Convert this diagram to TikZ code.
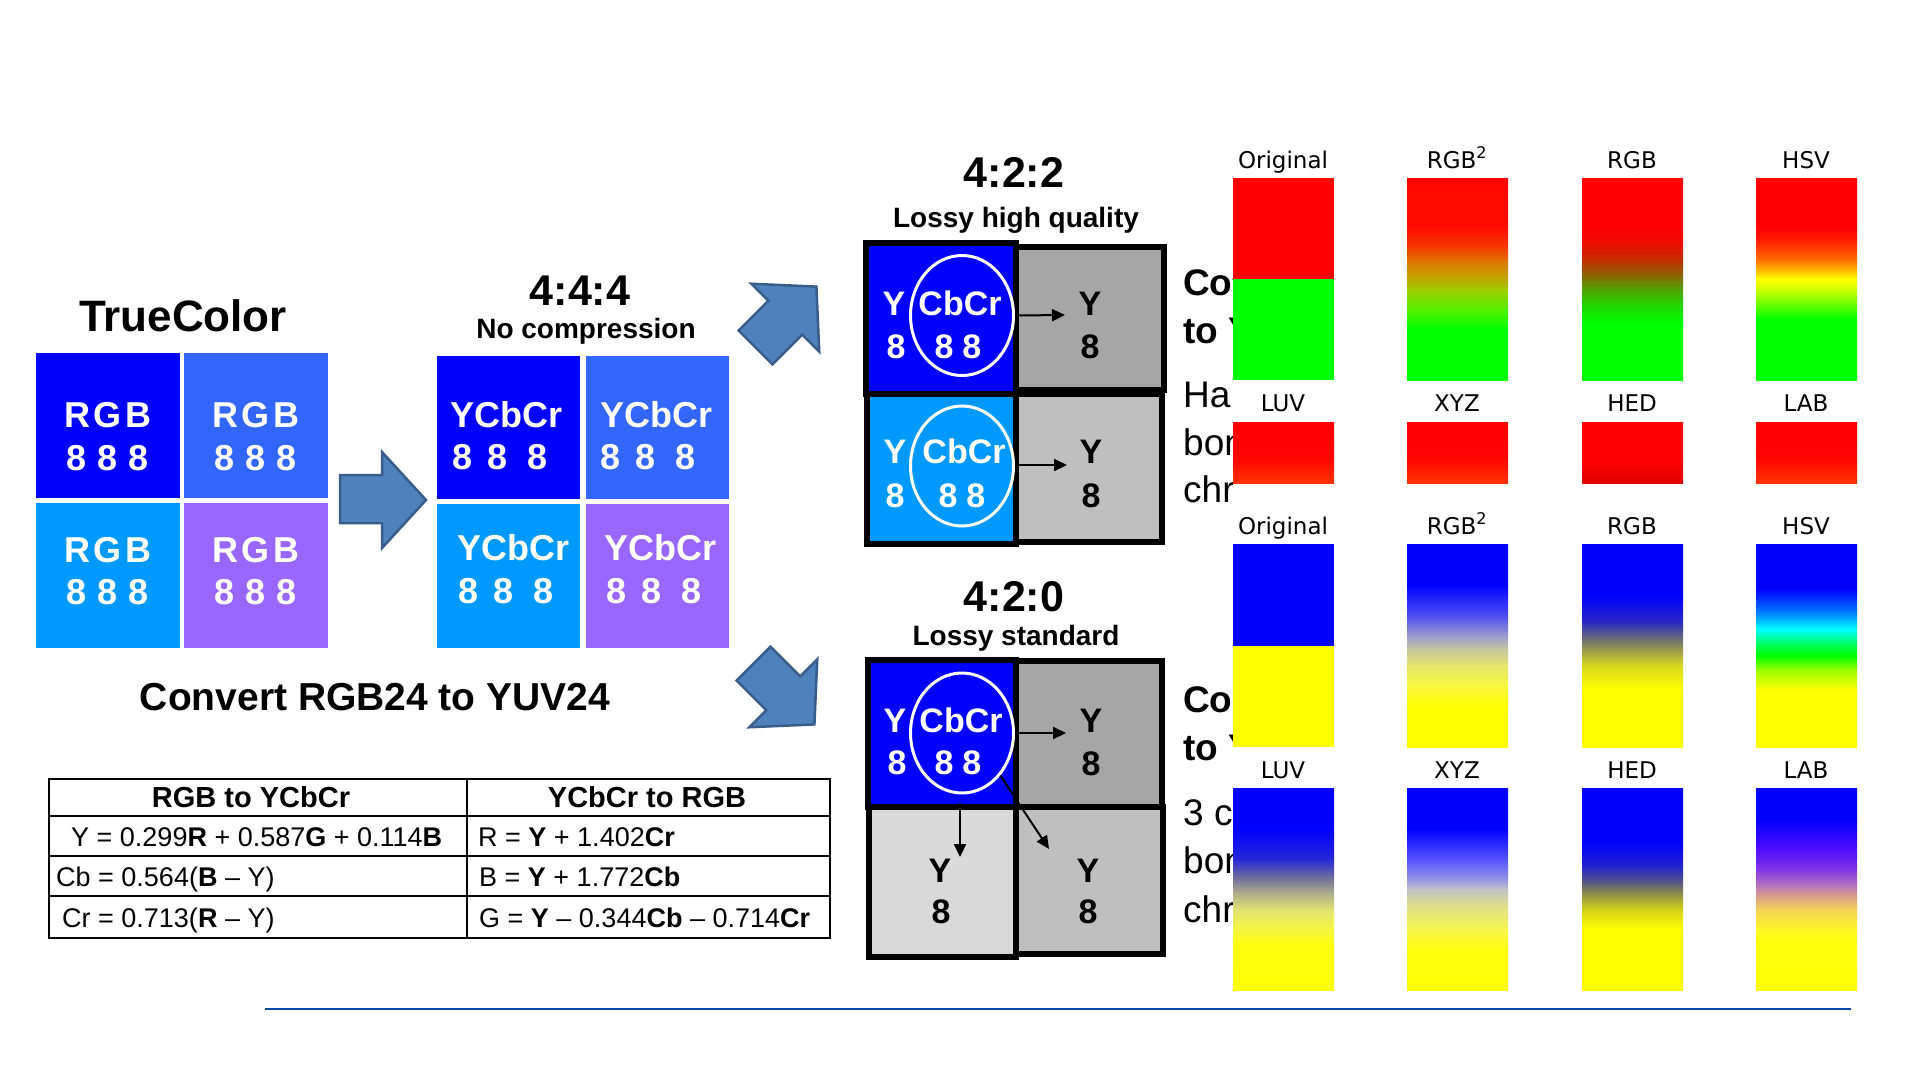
\documentclass[tikz,border=0pt]{standalone}
\usepackage{fontspec}
\setmainfont{Liberation Sans}
\newfontfamily\dvs{DejaVu Sans}
\usetikzlibrary{shapes.geometric,arrows.meta}
\newcommand\pxsize[1]{\fontsize{#1}{#1}\selectfont}
\definecolor{cA}{HTML}{0000FF}
\definecolor{cB}{HTML}{3366FF}
\definecolor{cC}{HTML}{0099FF}
\definecolor{cD}{HTML}{9966FF}
\definecolor{arrfill}{HTML}{4F81BD}
\definecolor{arredge}{HTML}{385D8A}
\definecolor{gA}{HTML}{A6A6A6}
\definecolor{gB}{HTML}{BFBFBF}
\definecolor{gC}{HTML}{D9D9D9}
\definecolor{rulecol}{HTML}{0047AB}
\definecolor{pureR}{RGB}{255,0,0}
\definecolor{pureG}{RGB}{0,255,0}
\definecolor{pureB}{RGB}{0,0,255}
\definecolor{pureY}{RGB}{255,255,0}
% red-green shadings (bottom = 0bp, path spans 25bp..75bp)
\pgfdeclareverticalshading{rgsq}{100bp}{rgb(0bp)=(0,1,0); rgb(37.5bp)=(0,1,0); rgb(42bp)=(0.3,0.95,0); rgb(47bp)=(0.6,0.82,0); rgb(50bp)=(0.75,0.66,0); rgb(54bp)=(0.86,0.48,0); rgb(58bp)=(0.96,0.22,0); rgb(63bp)=(1,0.04,0); rgb(100bp)=(1,0,0)}
\pgfdeclareverticalshading{rglin}{100bp}{rgb(0bp)=(0,1,0); rgb(39bp)=(0,1,0); rgb(44bp)=(0.15,0.82,0); rgb(48bp)=(0.35,0.6,0); rgb(51bp)=(0.55,0.38,0); rgb(55bp)=(0.78,0.17,0); rgb(59bp)=(0.93,0.05,0); rgb(63bp)=(1,0,0); rgb(100bp)=(1,0,0)}
\pgfdeclareverticalshading{rghsv}{100bp}{rgb(0bp)=(0,1,0); rgb(40bp)=(0,1,0); rgb(45bp)=(0.55,1,0); rgb(48.5bp)=(0.9,1,0); rgb(50bp)=(1,1,0); rgb(52bp)=(1,0.75,0); rgb(55bp)=(1,0.4,0); rgb(60bp)=(1,0.1,0); rgb(63bp)=(1,0,0); rgb(100bp)=(1,0,0)}
\pgfdeclareverticalshading{redtop}{100bp}{rgb(0bp)=(1,0.2,0); rgb(25bp)=(1,0.2,0); rgb(45bp)=(1,0.02,0); rgb(75bp)=(1,0,0); rgb(100bp)=(1,0,0)}
\pgfdeclareverticalshading{redhed}{100bp}{rgb(0bp)=(0.86,0,0); rgb(25bp)=(0.88,0,0); rgb(45bp)=(1,0,0); rgb(100bp)=(1,0,0)}
% blue-yellow shadings
\pgfdeclareverticalshading{bysq}{100bp}{rgb(0bp)=(1,1,0); rgb(35bp)=(1,1,0); rgb(40bp)=(0.97,0.97,0.25); rgb(45bp)=(0.9,0.9,0.42); rgb(49bp)=(0.78,0.78,0.62); rgb(52.5bp)=(0.6,0.6,0.82); rgb(57.5bp)=(0.3,0.3,0.95); rgb(65bp)=(0,0,1); rgb(100bp)=(0,0,1)}
\pgfdeclareverticalshading{bylin}{100bp}{rgb(0bp)=(1,1,0); rgb(39bp)=(1,1,0); rgb(45bp)=(0.85,0.85,0.12); rgb(49bp)=(0.6,0.6,0.3); rgb(52bp)=(0.4,0.4,0.48); rgb(56bp)=(0.15,0.15,0.78); rgb(62.5bp)=(0,0,1); rgb(100bp)=(0,0,1)}
\pgfdeclareverticalshading{byhsv}{100bp}{rgb(0bp)=(1,1,0); rgb(39bp)=(1,1,0); rgb(44bp)=(0.6,1,0); rgb(47.5bp)=(0,1,0); rgb(50bp)=(0,1,0.3); rgb(54bp)=(0,1,1); rgb(58.5bp)=(0,0.45,1); rgb(64bp)=(0,0,1); rgb(100bp)=(0,0,1)}
\pgfdeclareverticalshading{byluv}{100bp}{rgb(0bp)=(1,1,0); rgb(36bp)=(1,1,0.05); rgb(41bp)=(0.95,0.95,0.3); rgb(45bp)=(0.88,0.88,0.45); rgb(49bp)=(0.68,0.68,0.55); rgb(52.5bp)=(0.45,0.45,0.6); rgb(57.5bp)=(0.15,0.15,0.85); rgb(65bp)=(0,0,1); rgb(100bp)=(0,0,1)}
\pgfdeclareverticalshading{byxyz}{100bp}{rgb(0bp)=(1,1,0); rgb(35bp)=(1,1,0.05); rgb(41bp)=(0.95,0.95,0.35); rgb(46bp)=(0.87,0.87,0.55); rgb(50bp)=(0.75,0.75,0.78); rgb(53bp)=(0.55,0.55,0.92); rgb(58bp)=(0.3,0.3,1); rgb(65bp)=(0,0,1); rgb(100bp)=(0,0,1)}
\pgfdeclareverticalshading{byhed}{100bp}{rgb(0bp)=(1,1,0); rgb(40bp)=(1,1,0); rgb(45bp)=(0.82,0.82,0.1); rgb(49bp)=(0.55,0.55,0.3); rgb(52bp)=(0.32,0.32,0.55); rgb(56bp)=(0.12,0.12,0.82); rgb(62bp)=(0,0,1); rgb(100bp)=(0,0,1)}
\pgfdeclareverticalshading{bylab}{100bp}{rgb(0bp)=(1,1,0); rgb(37bp)=(1,1,0.05); rgb(40bp)=(1,0.97,0.15); rgb(45bp)=(0.95,0.82,0.35); rgb(48.5bp)=(0.85,0.6,0.55); rgb(51.5bp)=(0.68,0.42,0.78); rgb(55bp)=(0.5,0.2,0.9); rgb(60bp)=(0.3,0.05,1); rgb(67.5bp)=(0,0,1); rgb(100bp)=(0,0,1)}

\begin{document}
\begin{tikzpicture}[x=1pt,y=-1pt,
  txt/.style={inner sep=0pt, anchor=base},
  head/.style={txt, font=\bfseries\pxsize{43}},
  sub/.style={txt, font=\bfseries\pxsize{28}},
  tile/.style={rectangle, inner sep=0pt, outer sep=0pt, minimum width=144pt, minimum height=145pt},
  rgbtxt/.style={txt, text=white, font=\bfseries\pxsize{36}},
  ytxt/.style={inner sep=0pt, anchor=base west, text=white, font=\bfseries\pxsize{36}},
  celltxt/.style={txt, font=\bfseries\pxsize{34}},
  cellframe/.style={draw=black, line width=6pt},
  blockarrow/.style={fill=arrfill, draw=arredge, line width=2.5pt, line join=miter},
  conn/.style={line width=2pt, -{Triangle[length=13pt,width=12pt]}},
  ring/.style={ellipse, draw=white, line width=3pt, minimum width=103pt, minimum height=120pt, inner sep=0pt},
  tab/.style={inner sep=0pt, anchor=base west, font=\pxsize{27}},
  tabhead/.style={txt, font=\bfseries\pxsize{29}},
  glbl/.style={txt, font=\dvs\pxsize{23}},
  side/.style={inner sep=0pt, anchor=base west, font=\pxsize{37}}]
\useasboundingbox (0,0) rectangle (1921,1080);
\fill[white] (0,0) rectangle (1921,1080);

% ---------- TrueColor ----------
\node[txt, font=\bfseries\pxsize{44}] (ttl) at (183,331) {TrueColor};
\node[tile, fill=cA] (b11) at (108,425.5) {};
\node[tile, fill=cB] (b12) at (256,425.5) {};
\node[tile, fill=cC] (b21) at (108,575) {};
\node[tile, fill=cD] (b22) at (256,575) {};
\node[rgbtxt] (t11a) at (108,427) {R\hspace{4pt}G\hspace{4pt}B};
\node[rgbtxt] (t11b) at (108,470) {8\hspace{11pt}8\hspace{11pt}8};
\node[rgbtxt] (t12a) at (256,427) {R\hspace{4pt}G\hspace{4pt}B};
\node[rgbtxt] (t12b) at (256,470) {8\hspace{11pt}8\hspace{11pt}8};
\node[rgbtxt] (t21a) at (108,562) {R\hspace{4pt}G\hspace{4pt}B};
\node[rgbtxt] (t21b) at (108,604) {8\hspace{11pt}8\hspace{11pt}8};
\node[rgbtxt] (t22a) at (256,562) {R\hspace{4pt}G\hspace{4pt}B};
\node[rgbtxt] (t22b) at (256,604) {8\hspace{11pt}8\hspace{11pt}8};

% big right arrow
\draw[blockarrow] (340,475) -- (382,475) -- (382,452) -- (426,500) -- (382,548) -- (382,523) -- (340,523) -- cycle;

% ---------- 4:4:4 ----------
\node[head] (h444) at (580,305) {4:4:4};
\node[sub] (s444) at (586,338) {No compression};
\node[tile, minimum width=143pt, minimum height=143pt, fill=cA] (y11) at (508.5,427.5) {};
\node[tile, minimum width=143pt, minimum height=143pt, fill=cB] (y12) at (657.5,427.5) {};
\node[tile, minimum width=143pt, minimum height=144pt, fill=cC] (y21) at (508.5,576) {};
\node[tile, minimum width=143pt, minimum height=144pt, fill=cD] (y22) at (657.5,576) {};
\node[ytxt] (u11a) at (450,427) {YCbCr};
\node[ytxt] (u11b) at (452,469) {8\hspace{15.5pt}8\hspace{19.5pt}8};
\node[ytxt] (u12a) at (600,427) {YCbCr};
\node[ytxt] (u12b) at (600,469) {8\hspace{15.5pt}8\hspace{19.5pt}8};
\node[ytxt] (u21a) at (457,560) {YCbCr};
\node[ytxt] (u21b) at (458,603) {8\hspace{15.5pt}8\hspace{19.5pt}8};
\node[ytxt] (u22a) at (604,560) {YCbCr};
\node[ytxt] (u22b) at (606,603) {8\hspace{15.5pt}8\hspace{19.5pt}8};

% diagonal block arrows
\begin{scope}[shift={(786,317)}, rotate=45]
  \draw[blockarrow] (-43,-24) -- (-1,-24) -- (-1,-48) -- (43,0) -- (-1,48) -- (-1,24) -- (-43,24) -- cycle;
\end{scope}
\begin{scope}[shift={(784,694)}, rotate=-45]
  \draw[blockarrow] (-43,-24) -- (-1,-24) -- (-1,-48) -- (43,0) -- (-1,48) -- (-1,24) -- (-43,24) -- cycle;
\end{scope}

% ---------- 4:2:2 ----------
\node[head] (h422) at (1014,187) {4:2:2};
\node[sub] (s422) at (1016,227) {Lossy high quality};
\fill[cA] (866,243) rectangle (1016,394);
\fill[gA] (1016,247) rectangle (1164,390);
\fill[cC] (867,394) rectangle (1016,544);
\fill[gB] (1016,394) rectangle (1162,542);
\draw[cellframe] (1016,247) rectangle (1164,390);
\draw[cellframe] (1016,394) rectangle (1162,542);
\draw[cellframe] (867,394) rectangle (1016,544);
\draw[cellframe] (866,243) rectangle (1016,394);
\node[celltxt, text=white] (p1y) at (894,315) {Y};
\node[celltxt, text=white] (p1e) at (896,358) {8};
\node[celltxt, text=white] (p1c) at (960,315) {CbCr};
\node[celltxt, text=white] (p1d) at (958,358) {8\hspace{9pt}8};
\node[ring] (r1) at (962,315.5) {};
\node[celltxt] (q1y) at (1090,315) {Y};
\node[celltxt] (q1e) at (1090,358) {8};
\coordinate (e1) at (1065,315);
\draw[conn] (r1.east) -- (e1);
\node[celltxt, text=white] (p2y) at (895,463) {Y};
\node[celltxt, text=white] (p2e) at (895,507) {8};
\node[celltxt, text=white] (p2c) at (964,463) {CbCr};
\node[celltxt, text=white] (p2d) at (962,507) {8\hspace{9pt}8};
\node[ring] (r2) at (962,466) {};
\node[celltxt] (q2y) at (1091,463) {Y};
\node[celltxt] (q2e) at (1091,507) {8};
\coordinate (e2) at (1067,465);
\draw[conn] (r2.east |- e2) -- (e2);

% ---------- 4:2:0 ----------
\node[head] (h420) at (1014,611) {4:2:0};
\node[sub] (s420) at (1016,645) {Lossy standard};
\fill[cA] (868,660) rectangle (1016,807);
\fill[gA] (1016,661) rectangle (1162,807);
\fill[gC] (869,807) rectangle (1016,957);
\fill[gB] (1016,807) rectangle (1163,954);
\draw[cellframe] (1016,661) rectangle (1162,807);
\draw[cellframe] (1016,807) rectangle (1163,954);
\draw[cellframe] (869,807) rectangle (1016,957);
\draw[cellframe] (868,660) rectangle (1016,807);
\node[celltxt, text=white] (p3y) at (895,732) {Y};
\node[celltxt, text=white] (p3e) at (897,774) {8};
\node[celltxt, text=white] (p3c) at (961,732) {CbCr};
\node[celltxt, text=white] (p3d) at (958,774) {8\hspace{9pt}8};
\node[ring] (r3) at (962,733) {};
\node[celltxt] (q3y) at (1091,732) {Y};
\node[celltxt] (q3e) at (1091,775) {8};
\node[celltxt] (q4y) at (940,882) {Y};
\node[celltxt] (q4e) at (941,923) {8};
\node[celltxt] (q5y) at (1088,882) {Y};
\node[celltxt] (q5e) at (1088,923) {8};
\coordinate (e3) at (1066,733);
\coordinate (d0) at (960,803);
\coordinate (d1) at (960,857);
\coordinate (e5) at (1049,849);
\draw[conn] (r3.east) -- (e3);
\draw[conn] (d0) -- (d1);
\draw[conn] (r3.-48) -- (e5);

% ---------- side texts (cut by the panel) ----------
\begin{scope}
  \clip (1170,230) rectangle (1232,960);
  \node[side, font=\bfseries\pxsize{37}] (sa1) at (1183,295) {Con};
  \node[side, font=\bfseries\pxsize{37}] (sa2) at (1183,343) {to Y};
  \node[side] (sa3) at (1183,407) {Hal};
  \node[side] (sa4) at (1183,455) {bon};
  \node[side] (sa5) at (1183,502) {chr};
  \node[side, font=\bfseries\pxsize{37}] (sb1) at (1183,712) {Con};
  \node[side, font=\bfseries\pxsize{37}] (sb2) at (1183,760) {to Y};
  \node[side] (sb3) at (1183,825) {3 c};
  \node[side] (sb4) at (1183,873) {bon};
  \node[side] (sb5) at (1183,922) {chr};
\end{scope}

% ---------- convert caption ----------
\node[txt, font=\bfseries\pxsize{39}] (conv) at (375,710) {Convert RGB24 to YUV24};

% ---------- table ----------
\draw[line width=1.5pt] (49,779) rectangle (830,938);
\draw[line width=2.5pt] (49,938) -- (830,938);
\draw[line width=1.5pt] (49,816) -- (830,816);
\draw[line width=1.5pt] (49,856) -- (830,856);
\draw[line width=1.5pt] (49,896) -- (830,896);
\draw[line width=1.5pt] (467,779) -- (467,938);
\node[tabhead] (th1) at (251,807) {RGB to YCbCr};
\node[tabhead] (th2) at (647,807) {YCbCr to RGB};
\node[tab] (ta1) at (71,846) {Y = 0.299\textbf{R} + 0.587\textbf{G} + 0.114\textbf{B}};
\node[tab] (ta2) at (56,886) {Cb = 0.564(\textbf{B} – Y)};
\node[tab] (ta3) at (62,927) {Cr = 0.713(\textbf{R} – Y)};
\node[tab] (tb1) at (478,846) {R = \textbf{Y} + 1.402\textbf{Cr}};
\node[tab] (tb2) at (479,886) {B = \textbf{Y} + 1.772\textbf{Cb}};
\node[tab] (tb3) at (479,927) {G = \textbf{Y} – 0.344\textbf{Cb} – 0.714\textbf{Cr}};

% ---------- right panel: red / green ----------
\node[glbl] (la1) at (1283,168) {Original};
\node[glbl] (la2) at (1457,168) {RGB\textsuperscript{2}};
\node[glbl] (la3) at (1632,168) {RGB};
\node[glbl] (la4) at (1806,168) {HSV};
\fill[pureR] (1233,178) rectangle (1334,279);
\fill[pureG] (1233,279) rectangle (1334,380);
\shade[shading=rgsq] (1407,178) rectangle (1508,380);
\shade[shading=rglin] (1582,178) rectangle (1683,380);
\shade[shading=rghsv] (1756,178) rectangle (1857,380);
\node[glbl] (lb1) at (1283,411) {LUV};
\node[glbl] (lb2) at (1457,411) {XYZ};
\node[glbl] (lb3) at (1632,411) {HED};
\node[glbl] (lb4) at (1806,411) {LAB};
\shade[shading=redtop] (1233,422) rectangle (1334,483);
\shade[shading=redtop] (1407,422) rectangle (1508,483);
\shade[shading=redhed] (1582,422) rectangle (1683,483);
\shade[shading=redtop] (1756,422) rectangle (1857,483);

% ---------- right panel: blue / yellow ----------
\node[glbl] (lc1) at (1283,534) {Original};
\node[glbl] (lc2) at (1457,534) {RGB\textsuperscript{2}};
\node[glbl] (lc3) at (1632,534) {RGB};
\node[glbl] (lc4) at (1806,534) {HSV};
\fill[pureB] (1233,544) rectangle (1334,646);
\fill[pureY] (1233,646) rectangle (1334,747);
\shade[shading=bysq] (1407,544) rectangle (1508,747);
\shade[shading=bylin] (1582,544) rectangle (1683,747);
\shade[shading=byhsv] (1756,544) rectangle (1857,747);
\node[glbl] (ld1) at (1283,778) {LUV};
\node[glbl] (ld2) at (1457,778) {XYZ};
\node[glbl] (ld3) at (1632,778) {HED};
\node[glbl] (ld4) at (1806,778) {LAB};
\shade[shading=byluv] (1233,788) rectangle (1334,990);
\shade[shading=byxyz] (1407,788) rectangle (1508,990);
\shade[shading=byhed] (1582,788) rectangle (1683,990);
\shade[shading=bylab] (1756,788) rectangle (1857,990);

% ---------- bottom rule ----------
\draw[rulecol, line width=2.5pt] (265,1009) -- (1851,1009);
\end{tikzpicture}
\end{document}
